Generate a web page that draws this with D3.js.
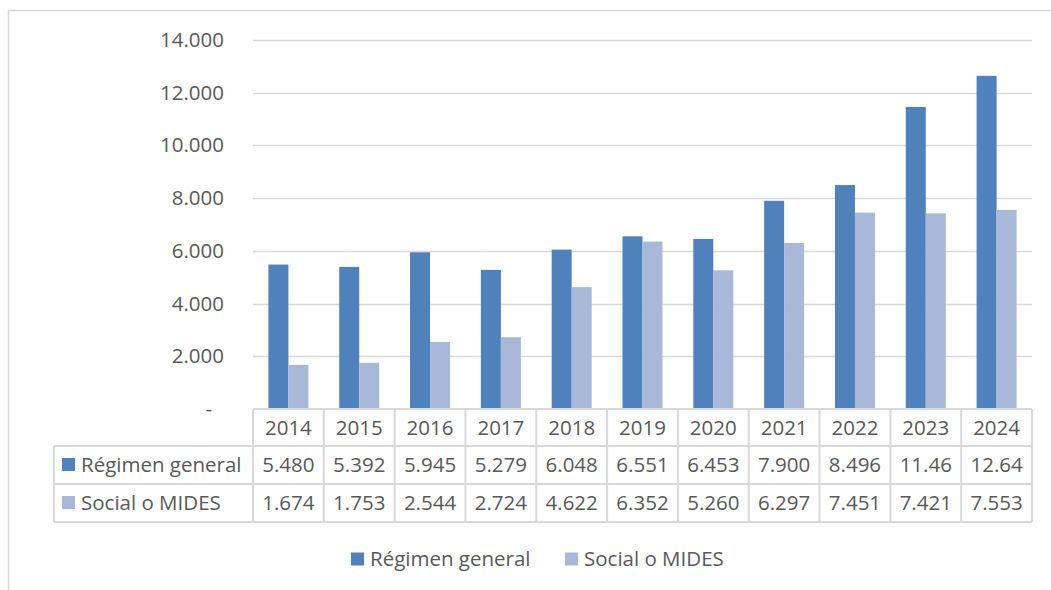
<!DOCTYPE html>
<html>
<head>
<meta charset="utf-8">
<script src="https://cdn.jsdelivr.net/npm/d3@7"></script>
<style>
  html, body { margin: 0; padding: 0; background: #fff; }
  svg { display: block; }
  text { font-family: "Open Sans", sans-serif; fill: #595959; }
</style>
</head>
<body>
<svg id="chart" width="1051" height="590"></svg>
<script>
const years = ["2014","2015","2016","2017","2018","2019","2020","2021","2022","2023","2024"];
const seriesNames = ["Régimen general", "Social o MIDES"];
const regimenGeneral = [5480, 5392, 5945, 5279, 6048, 6551, 6453, 7900, 8496, 11460, 12640];
const socialMides = [1674, 1753, 2544, 2724, 4622, 6352, 5260, 6297, 7451, 7421, 7553];
const yTicks = [0, 2000, 4000, 6000, 8000, 10000, 12000, 14000];
const colors = ["#4F81BD", "#A9B8D8"];

const seriesValues = [regimenGeneral, socialMides];
const svg = d3.select("#chart");
const W = 1051, H = 590;

const locale = d3.formatLocale({decimal: ",", thousands: ".", grouping: [3], currency: ["", ""]});
const fmt = locale.format(",d");
const tickFmt = v => v === 0 ? "-" : fmt(v);
// Excel data table clips cells to 5 visible characters here
const cellFmt = v => fmt(v).slice(0, 5);

const plotLeft = 253, plotRight = 1032, plotTop = 40, plotBottom = 409;
const fontSize = 20.5;
const gridColor = "#D9D9D9";

// outer chart border (partly cropped)
svg.append("path")
  .attr("d", `M8.5,${H} V10.5 H${W}`)
  .attr("fill", "none").attr("stroke", gridColor).attr("stroke-width", 1.5);

const x = d3.scaleBand().domain(years).range([plotLeft, plotRight]).paddingInner(0).paddingOuter(0);
const y = d3.scaleLinear().domain([0, 14000]).range([plotBottom, plotTop]);
const barW = 20;
const xs = d3.scaleBand().domain(seriesNames).range([-barW, barW]);

// gridlines
svg.append("g").selectAll("line").data(yTicks.filter(d => d > 0)).join("line")
  .attr("x1", plotLeft).attr("x2", plotRight)
  .attr("y1", d => Math.round(y(d)) + 0.5).attr("y2", d => Math.round(y(d)) + 0.5)
  .attr("stroke", gridColor).attr("stroke-width", 1.5);

// y axis labels
const yAxis = d3.axisLeft(y).tickValues(yTicks).tickFormat(tickFmt).tickSize(0).tickPadding(0);
const yg = svg.append("g").attr("transform", `translate(224,0)`).call(yAxis);
yg.select(".domain").remove();
yg.selectAll("text")
  .attr("font-size", fontSize).attr("font-family", "Open Sans, sans-serif").attr("fill", "#595959")
  .attr("dx", d => d === 0 ? -12 : 0);

// bars
seriesNames.forEach((name, si) => {
  svg.append("g").selectAll("rect").data(years).join("rect")
    .attr("x", (d) => x(d) + x.bandwidth() / 2 + xs(name))
    .attr("width", xs.bandwidth())
    .attr("y", (d, i) => y(seriesValues[si][i]))
    .attr("height", (d, i) => plotBottom - y(seriesValues[si][i]))
    .attr("fill", colors[si]);
});

// data table
const rowTops = [409, 446, 484, 522];
const tableLeft = 54;
const tg = svg.append("g");
const lineStyle = sel => sel.attr("stroke", gridColor).attr("stroke-width", 2).attr("fill", "none");

// horizontal lines
tg.append("line").attr("x1", plotLeft).attr("x2", plotRight).attr("y1", rowTops[0]).attr("y2", rowTops[0]).call(lineStyle);
rowTops.slice(1).forEach(r => {
  tg.append("line").attr("x1", tableLeft).attr("x2", plotRight).attr("y1", r).attr("y2", r).call(lineStyle);
});
// vertical lines
tg.append("line").attr("x1", tableLeft).attr("x2", tableLeft).attr("y1", rowTops[1]).attr("y2", rowTops[3]).call(lineStyle);
years.forEach(yr => {
  tg.append("line").attr("x1", x(yr)).attr("x2", x(yr)).attr("y1", rowTops[0]).attr("y2", rowTops[3]).call(lineStyle);
});
tg.append("line").attr("x1", plotRight).attr("x2", plotRight).attr("y1", rowTops[0]).attr("y2", rowTops[3]).call(lineStyle);

// header years
tg.selectAll("text.year").data(years).join("text").attr("class", "year")
  .attr("x", d => x(d) + x.bandwidth() / 2)
  .attr("y", (rowTops[0] + rowTops[1]) / 2 - 1)
  .attr("text-anchor", "middle").attr("dominant-baseline", "central")
  .attr("font-size", fontSize).text(d => d);

// rows
seriesNames.forEach((name, si) => {
  const cy = (rowTops[si + 1] + rowTops[si + 2]) / 2 - 1;
  tg.append("rect").attr("x", 62).attr("y", cy - 6).attr("width", 13).attr("height", 13).attr("fill", colors[si]);
  tg.append("text").attr("x", 81).attr("y", cy).attr("dominant-baseline", "central")
    .attr("font-size", fontSize).text(name);
  tg.selectAll(null).data(years).join("text")
    .attr("x", d => x(d) + x.bandwidth() / 2)
    .attr("y", cy)
    .attr("text-anchor", "middle").attr("dominant-baseline", "central")
    .attr("font-size", fontSize)
    .text((d, i) => cellFmt(seriesValues[si][i]));
});

// legend
const legendX = [351, 565];
const legendY = 558;
const lg = svg.append("g");
seriesNames.forEach((name, si) => {
  lg.append("rect").attr("x", legendX[si]).attr("y", legendY - 5.5).attr("width", 13).attr("height", 13).attr("fill", colors[si]);
  lg.append("text").attr("x", legendX[si] + 19).attr("y", legendY).attr("dominant-baseline", "central")
    .attr("font-size", fontSize).text(name);
});
</script>
</body>
</html>
